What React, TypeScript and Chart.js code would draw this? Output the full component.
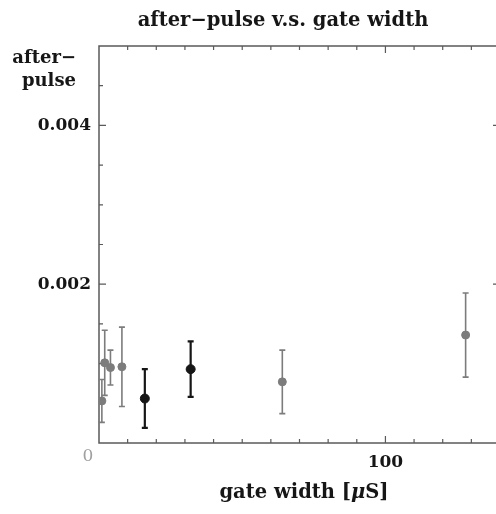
import React, { useEffect, useRef } from "react";
import { Chart, registerables } from "chart.js";

Chart.register(...registerables);

// ---- text ----
const titleText = "after\u2212pulse v.s. gate width";
const yLabelLines = ["after\u2212", "pulse"];
const xTitleParts = ["gate width [", "\u03BC", "S]"];
const cornerLabel = "0";

// ---- axes ----
const xMin = 0;
const xMax = 140;
const yMin = 0;
const yMax = 0.005;
const xTickValues = [100];
const yTickValues = [0.002, 0.004];
const xMinorStep = 10;
const yMinorStep = 0.0005;

// ---- data (gate width in µS, after-pulse rate, ± error) ----
const greyX = [1, 2, 4, 8, 64, 128];
const greyY = [0.00053, 0.00101, 0.00095, 0.00096, 0.00077, 0.00136];
const greyErr = [0.00027, 0.00041, 0.00022, 0.0005, 0.0004, 0.00053];

const blackX = [16, 32];
const blackY = [0.00056, 0.00093];
const blackErr = [0.00037, 0.00035];

const FONT = "'DejaVu Serif', serif";
const INK = "#161616";
const GREY = "#7c7c7c";
const FRAME = "#5a5a5a";

const errorBarPlugin = {
  id: "errbars",
  beforeDatasetsDraw(chart: any) {
    const ctx = chart.ctx;
    const xs = chart.scales.x;
    const ys = chart.scales.y;
    chart.data.datasets.forEach((ds: any) => {
      ctx.save();
      ctx.strokeStyle = ds.errColor;
      ctx.lineWidth = ds.errWidth;
      ds.data.forEach((p: any) => {
        const px = xs.getPixelForValue(p.x);
        const top = ys.getPixelForValue(p.y + p.err);
        const bot = ys.getPixelForValue(p.y - p.err);
        ctx.beginPath();
        ctx.moveTo(px, top);
        ctx.lineTo(px, bot);
        ctx.moveTo(px - 3, top);
        ctx.lineTo(px + 3, top);
        ctx.moveTo(px - 3, bot);
        ctx.lineTo(px + 3, bot);
        ctx.stroke();
      });
      ctx.restore();
    });
  },
};

const framePlugin = {
  id: "frame",
  beforeDatasetsDraw(chart: any) {
    const ctx = chart.ctx;
    const { left, right, top, bottom } = chart.chartArea;
    const xs = chart.scales.x;
    const ys = chart.scales.y;
    ctx.save();
    ctx.strokeStyle = FRAME;
    ctx.lineWidth = 1.5;
    ctx.strokeRect(left, top, right - left, bottom - top);
    ctx.lineWidth = 1.2;
    ctx.beginPath();
    for (let v = xMin + xMinorStep; v < xMax; v += xMinorStep) {
      const px = xs.getPixelForValue(v);
      const major = xTickValues.some((t) => Math.abs(t - v) < 1e-9);
      const len = major ? 7 : 4;
      ctx.moveTo(px, bottom);
      ctx.lineTo(px, bottom - len);
      ctx.moveTo(px, top);
      ctx.lineTo(px, top + len);
    }
    for (let v = yMin + yMinorStep; v < yMax - 1e-9; v += yMinorStep) {
      const py = ys.getPixelForValue(v);
      const major = yTickValues.some((t) => Math.abs(t - v) < 1e-9);
      const len = major ? 7 : 4;
      ctx.moveTo(left, py);
      ctx.lineTo(left + len, py);
      ctx.moveTo(right, py);
      ctx.lineTo(right - len, py);
    }
    ctx.stroke();
    ctx.restore();
  },
};

const textPlugin = {
  id: "texts",
  afterDraw(chart: any) {
    const ctx = chart.ctx;
    ctx.save();
    ctx.fillStyle = INK;
    ctx.font = `bold 19.5px ${FONT}`;
    ctx.textAlign = "center";
    ctx.textBaseline = "alphabetic";
    ctx.fillText(titleText, 283, 26);

    ctx.font = `bold 18px ${FONT}`;
    ctx.textAlign = "right";
    ctx.fillText(yLabelLines[0], 76, 63);
    ctx.fillText(yLabelLines[1], 76, 86);

    // x title with italic mu
    const normal = `bold 19.5px ${FONT}`;
    const italic = `italic bold 19.5px ${FONT}`;
    ctx.font = normal;
    const w0 = ctx.measureText(xTitleParts[0]).width;
    const w2 = ctx.measureText(xTitleParts[2]).width;
    ctx.font = italic;
    const w1 = ctx.measureText(xTitleParts[1]).width;
    let x = 304 - (w0 + w1 + w2) / 2;
    ctx.textAlign = "left";
    ctx.font = normal;
    ctx.fillText(xTitleParts[0], x, 498);
    x += w0;
    ctx.font = italic;
    ctx.fillText(xTitleParts[1], x, 498);
    x += w1;
    ctx.font = normal;
    ctx.fillText(xTitleParts[2], x, 498);

    ctx.fillStyle = "#a0a0a0";
    ctx.font = `17px ${FONT}`;
    ctx.textAlign = "center";
    ctx.textBaseline = "middle";
    ctx.fillText(cornerLabel, 88, 457);
    ctx.restore();
  },
};

export default function App() {
  const ref = useRef<HTMLCanvasElement | null>(null);

  useEffect(() => {
    if (!ref.current) return;
    const chart = new Chart(ref.current, {
      type: "scatter",
      data: {
        datasets: [
          {
            data: greyX.map((x, i) => ({ x, y: greyY[i], err: greyErr[i] })),
            backgroundColor: GREY,
            borderColor: GREY,
            pointRadius: 4,
            errColor: GREY,
            errWidth: 1.6,
          } as any,
          {
            data: blackX.map((x, i) => ({ x, y: blackY[i], err: blackErr[i] })),
            backgroundColor: INK,
            borderColor: INK,
            pointRadius: 4.5,
            errColor: INK,
            errWidth: 2.2,
          } as any,
        ],
      },
      options: {
        animation: false,
        responsive: false,
        devicePixelRatio: 1,
        layout: { autoPadding: false, padding: { left: 0, top: 46, right: 0, bottom: 0 } },
        plugins: {
          legend: { display: false },
          tooltip: { enabled: false },
          title: { display: false },
        },
        scales: {
          x: {
            type: "linear",
            min: xMin,
            max: xMax,
            grid: { display: false, drawTicks: false },
            border: { display: false },
            afterBuildTicks: (s: any) => {
              s.ticks = xTickValues.map((v) => ({ value: v }));
            },
            afterFit: (s: any) => {
              s.height = 71;
            },
            ticks: {
              color: INK,
              padding: 9,
              maxRotation: 0,
              font: { family: FONT, size: 17, weight: "bold" },
              callback: (v: any) => String(v),
            },
          },
          y: {
            type: "linear",
            min: yMin,
            max: yMax,
            grid: { display: false, drawTicks: false },
            border: { display: false },
            afterBuildTicks: (s: any) => {
              s.ticks = yTickValues.map((v) => ({ value: v }));
            },
            afterFit: (s: any) => {
              s.width = 99;
            },
            ticks: {
              color: INK,
              padding: 8,
              font: { family: FONT, size: 17, weight: "bold" },
              callback: (v: any) => Number(v).toFixed(3),
            },
          },
        },
      } as any,
      plugins: [framePlugin, errorBarPlugin, textPlugin],
    });
    return () => chart.destroy();
  }, []);

  return (
    <div
      style={{
        position: "absolute",
        left: 0,
        top: 0,
        width: 496,
        height: 514,
        overflow: "hidden",
        background: "#fff",
      }}
    >
      <canvas ref={ref} width={500} height={514} style={{ display: "block" }} />
    </div>
  );
}
